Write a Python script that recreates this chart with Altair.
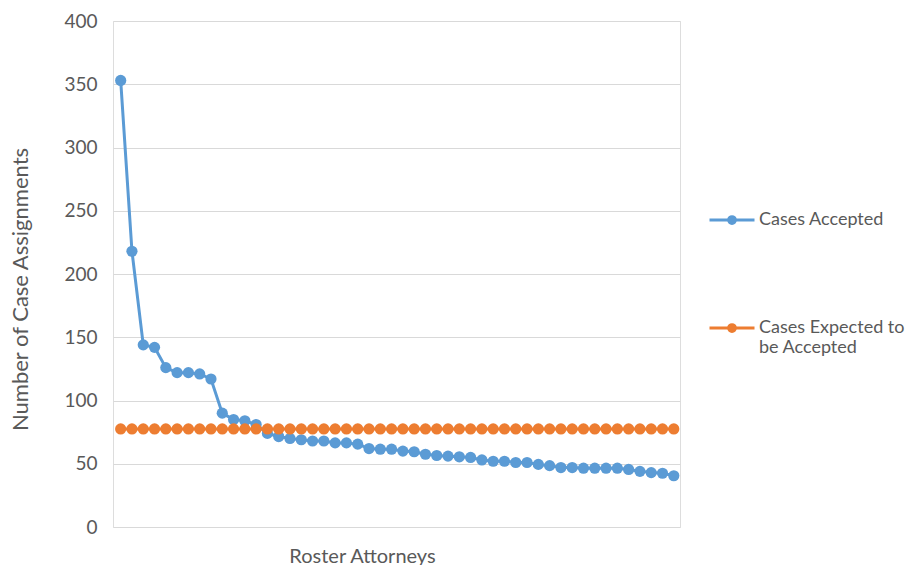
import altair as alt
import pandas as pd

S1 = "Cases Accepted"
S2 = "Cases Expected to be Accepted"
BLUE = "#5b9bd5"
ORANGE = "#ed7d31"
GRAY = "#595959"
FONT = "Lato"

attorney = list(range(1, 51))
cases_accepted = [353, 218, 144, 142, 126, 122, 122, 121, 117, 90,
                  85, 84, 81, 74, 71.5, 70, 69, 68, 68, 66.5,
                  66.5, 65.5, 62, 61.5, 61.5, 60, 59.5, 57.5, 56.5, 56,
                  55.5, 55, 53, 52, 52, 51, 51, 49.5, 48.5, 47,
                  47, 46.5, 46.5, 46.5, 46.5, 45.5, 44, 43, 42.5, 40.5]
cases_expected = [77.5, 77.5, 77.5, 77.5, 77.5, 77.5, 77.5, 77.5, 77.5, 77.5,
                  77.5, 77.5, 77.5, 77.5, 77.5, 77.5, 77.5, 77.5, 77.5, 77.5,
                  77.5, 77.5, 77.5, 77.5, 77.5, 77.5, 77.5, 77.5, 77.5, 77.5,
                  77.5, 77.5, 77.5, 77.5, 77.5, 77.5, 77.5, 77.5, 77.5, 77.5,
                  77.5, 77.5, 77.5, 77.5, 77.5, 77.5, 77.5, 77.5, 77.5, 77.5]
y_ticks = [0, 50, 100, 150, 200, 250, 300, 350, 400]

df = pd.DataFrame({
    "attorney": attorney + attorney,
    "series": [S1] * len(attorney) + [S2] * len(attorney),
    "value": cases_accepted + cases_expected,
})

symbol_path = ("M-1,0H1"
               "M0.15,0A0.15,0.15,0,1,1,-0.15,0A0.15,0.15,0,1,1,0.15,0"
               "M0.07,0A0.07,0.07,0,1,1,-0.07,0A0.07,0.07,0,1,1,0.07,0")

color = alt.Color(
    "series:N",
    scale=alt.Scale(domain=[S1, S2], range=[BLUE, ORANGE]),
    legend=alt.Legend(
        title=None, orient="none", legendX=595, legendY=175,
        symbolType=symbol_path, symbolSize=2025, symbolStrokeWidth=3,
        labelFont=FONT, labelFontSize=18, labelColor=GRAY, labelOffset=3,
        labelLimit=400, padding=0, rowPadding=74, labelBaseline="middle",
        labelExpr="datum.label == 'Cases Expected to be Accepted' ? ['Cases Expected to', 'be Accepted'] : datum.label",
    ),
)

x = alt.X("attorney:Q",
          scale=alt.Scale(domain=[0.32, 50.55], nice=False, zero=False),
          axis=alt.Axis(title="Roster Attorneys", labels=False, ticks=False,
                        domain=False, grid=False, titleFont=FONT,
                        titleFontSize=20, titleFontWeight="normal",
                        titleColor=GRAY, titleX=249, titleY=29,
                        titleAlign="center", titleBaseline="middle"))
y = alt.Y("value:Q",
          scale=alt.Scale(domain=[0, 400], nice=False),
          axis=alt.Axis(title="Number of Case Assignments", values=y_ticks,
                        grid=True, gridColor="#d9d9d9", gridWidth=1,
                        ticks=False, domain=False, labelPadding=16,
                        labelFont=FONT, labelFontSize=19, labelColor=GRAY,
                        titleFont=FONT, titleFontSize=22,
                        titleFontWeight="normal", titleColor=GRAY,
                        titleX=-93, titleY=268, titleAngle=270,
                        titleAlign="center", titleBaseline="middle"))

base = alt.Chart(df).encode(x=x, y=y, color=color)

layers = []
for s in [S1, S2]:
    sub = base.transform_filter(alt.datum.series == s)
    layers.append(sub.mark_line(strokeWidth=3))
    layers.append(sub.mark_circle(size=125, opacity=1))

chart = alt.layer(*layers).properties(
    width=567, height=506,
    autosize=alt.AutoSizeParams(type="none"),
    padding={"left": 113, "top": 21, "right": 226, "bottom": 38},
).configure_view(stroke=None).configure(background="white")

chart.save("out.html", embed_options={"renderer": "svg", "actions": False})
